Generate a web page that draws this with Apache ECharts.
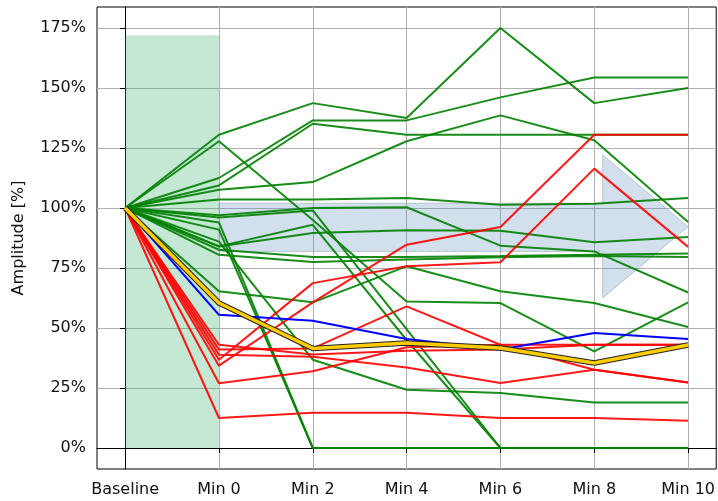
<!DOCTYPE html>
<html><head><meta charset="utf-8">
<script src="https://cdn.jsdelivr.net/npm/echarts@6/dist/echarts.min.js"></script>
<style>html,body{margin:0;padding:0;background:#fff}#c{width:718px;height:501px}</style>
</head><body><div id="c"></div>
<script>
const categories = ['Baseline','Min 0','Min 2','Min 4','Min 6','Min 8','Min 10'];
const yTicks = [0,25,50,75,100,125,150,175];

const greenSeries = [
  [100,130.5,143.7,137.5,175,143.7,150],
  [100,112.5,136.5,136.5,146.1,154.4,154.4],
  [100,109.4,135.1,130.5,130.5,130.5,130.5],
  [100,107.6,110.8,127.8,138.6,128.2,94.2],
  [100,103.5,103.5,104.2,101.4,101.8,104.2],
  [100,65.3,60.7,75.7,65.3,60.4,50.4],
  [100,127.8,95,61,60.4,40.3,60.7],
  [100,97,100,100.3,84.3,81.9,64.8],
  [100,96,99,49.5,0,0,0],
  [100,84,93,45,0,0,0],
  [100,86,36.8,24.3,22.9,19,19],
  [100,91,0,0,0,0,0],
  [100,94,0,0,0,0,0],
  [100,84,89.6,90.7,90.5,85.7,87.9],
  [100,82.6,79.6,79.6,80,80.5,81],
  [100,80.5,77.5,78.5,79.5,80,79.6]
];
const redSeries = [
  [100,12.5,14.7,14.7,12.5,12.5,11.4],
  [100,34.3,60.7,84.7,92.1,130.5,130.5],
  [100,36.8,68.7,75.7,77.4,116.4,83.8],
  [100,41,41.5,59,43,32.6,27.3],
  [100,38.9,38,33.5,27.1,32.6,27.3],
  [100,27,32,42,43,43,43],
  [100,43,39,40.5,41,43,43]
];
const blueSeries = [100,55.5,53,45.4,41,47.9,45.4];
const yellowSeries = [100,60.4,41.5,43.7,41.7,35.4,42.9];

// shaded baseline window (x from Baseline to Min 0, y from 0 to top)
const shadeX = [0, 1];
const shadeY = [0, 172];
// arrow outline in data units
const arrowX = [1, 5.09, 5.09, 6, 5.09, 5.09, 1];
const arrowY = [102, 102, 122.2, 92.2, 62.5, 81.9, 81.9];

const toXY = vals => vals.map((v, i) => [i, v]);
const series = [];

series.push({
  type: 'custom', coordinateSystem: 'cartesian2d', silent: true, z: 1,
  data: [[1, 92]],
  renderItem: function (params, api) {
    const pts = arrowX.map((x, i) => api.coord([x, arrowY[i]]));
    return { type: 'polygon', shape: { points: pts },
      style: { fill: 'rgba(70,130,180,0.25)', stroke: 'rgba(150,160,175,0.5)', lineWidth: 1 } };
  }
});

greenSeries.forEach((s, k) => {
  const o = { type: 'line', data: toXY(s), symbol: 'none', silent: true, z: 3,
    lineStyle: { color: '#008000', width: 2, opacity: 0.9 } };
  if (k === 0) {
    o.markArea = { silent: true, itemStyle: { color: 'rgba(60,179,113,0.3)' },
      data: [[{ coord: [shadeX[0], shadeY[0]] }, { coord: [shadeX[1], shadeY[1]] }]] };
  }
  series.push(o);
});
redSeries.forEach(s => series.push({ type: 'line', data: toXY(s), symbol: 'none', silent: true, z: 4,
  lineStyle: { color: '#ff0000', width: 2, opacity: 0.9 } }));
series.push({ type: 'line', data: toXY(blueSeries), symbol: 'none', silent: true, z: 5,
  lineStyle: { color: '#0000ff', width: 2 } });
series.push({ type: 'line', data: toXY(yellowSeries), symbol: 'none', silent: true, z: 6,
  lineStyle: { color: '#222', width: 5.5 } });
series.push({ type: 'line', data: toXY(yellowSeries), symbol: 'none', silent: true, z: 7,
  lineStyle: { color: '#ffcc00', width: 3.5 } });

const chart = echarts.init(document.getElementById('c'), null, { renderer: 'canvas' });
chart.setOption({
  animation: false,
  backgroundColor: '#fff',
  grid: { left: 97, right: 1, top: 7, bottom: 32, show: true, borderColor: '#000', borderWidth: 1 },
  xAxis: {
    type: 'value', min: -0.3, max: 6.3,
    axisLine: { show: true, lineStyle: { color: '#000' } },
    axisTick: { show: true, length: 5, customValues: categories.map((c, i) => i), lineStyle: { color: '#000' } },
    axisLabel: { customValues: categories.map((c, i) => i), formatter: v => categories[Math.round(v)],
      fontFamily: 'DejaVu Sans', fontSize: 16, color: '#111', margin: 13 },
    splitLine: { show: true, lineStyle: { color: '#b0b0b0', width: 1 } }
  },
  yAxis: {
    type: 'value', min: -8.75, max: 183.75,
    name: 'Amplitude [%]', nameLocation: 'middle', nameGap: 70,
    nameTextStyle: { fontFamily: 'DejaVu Sans', fontSize: 16, color: '#111' },
    axisLine: { show: true, lineStyle: { color: '#000' } },
    axisTick: { show: true, length: 5, customValues: yTicks, lineStyle: { color: '#000' } },
    axisLabel: { customValues: yTicks, formatter: v => v + '%',
      fontFamily: 'DejaVu Sans', fontSize: 16, color: '#111', margin: 11 },
    splitLine: { show: true, lineStyle: { color: '#b0b0b0', width: 1 } }
  },
  series: series
});
</script></body></html>
